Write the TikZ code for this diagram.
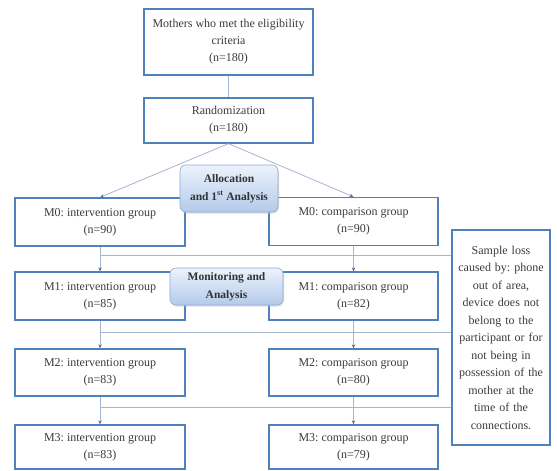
\documentclass[tikz,border=0pt]{standalone}
\usepackage{fontspec}
\setmainfont{Liberation Serif}
\usetikzlibrary{arrows.meta,shadows,calc}
\definecolor{boxblue}{RGB}{79,129,189}
\definecolor{txtgray}{RGB}{60,60,60}
\definecolor{lineblue}{RGB}{165,182,206}
\definecolor{arrblue}{RGB}{90,110,150}
\definecolor{tagtop}{RGB}{236,243,252}
\definecolor{tagbot}{RGB}{180,202,234}
\definecolor{tagedge}{RGB}{140,170,215}
\tikzset{
  box/.style={draw=boxblue, line width=1.3pt, fill=white, align=center,
    font=\frenchspacing\fontsize{12}{17}\selectfont, text=txtgray, inner sep=0pt},
  tagbox/.style={draw=tagedge, line width=0.6pt, rounded corners=6pt,
    top color=tagtop, bottom color=tagbot, align=center, inner sep=0pt,
    font=\bfseries\fontsize{11.5}{18}\selectfont, text=black!80,
    drop shadow={shadow xshift=1pt, shadow yshift=-1.5pt, fill=black!25}},
  conn/.style={draw=lineblue, line width=0.8pt},
  arr/.style={conn, -{Stealth[length=4pt,width=3.5pt,color=arrblue]}}
}
\begin{document}
\begin{tikzpicture}[x=1pt,y=-1pt]
\path[use as bounding box, fill=white] (0,0) rectangle (557,471);

\node[box, minimum width=169pt, minimum height=66pt] (elig) at (228.5,42)
  {Mothers who met the eligibility\\criteria\\(n=180)};
\node[box, minimum width=169pt, minimum height=45pt] (rand) at (228.5,120.5)
  {Randomization\\(n=180)};

\node[box, minimum width=170pt, minimum height=48pt] (m0i) at (100,222) {M0: intervention group\\(n=90)};
\node[box, minimum width=169pt, minimum height=48pt] (m0c) at (353.5,221.5) {M0: comparison group\\(n=90)};
\node[box, minimum width=170pt, minimum height=48pt] (m1i) at (100,296) {M1: intervention group\\(n=85)};
\node[box, minimum width=169pt, minimum height=48pt] (m1c) at (353.5,296) {M1: comparison group\\(n=82)};
\node[box, minimum width=170pt, minimum height=47pt] (m2i) at (100,372.5) {M2: intervention group\\(n=83)};
\node[box, minimum width=169pt, minimum height=47pt] (m2c) at (353.5,372.5) {M2: comparison group\\(n=80)};
\node[box, minimum width=170pt, minimum height=44pt] (m3i) at (100,447) {M3: intervention group\\(n=83)};
\node[box, minimum width=169pt, minimum height=44pt] (m3c) at (353.5,447) {M3: comparison group\\(n=79)};

\node[box, minimum width=98pt, minimum height=215pt, text width=96pt,
  font=\frenchspacing\fontsize{12}{17.5}\selectfont] (loss) at (501,337.5)
  {Sample loss\\caused by: phone\\out of area,\\device does not\\belong to the\\participant or for\\not being in\\possession of the\\mother at the\\time of the\\connections.};

\coordinate (h1) at (100,255);
\coordinate (h2) at (100,332);
\coordinate (h3) at (100,407);

\draw[conn] (elig.south) -- (rand.north);
\draw[arr] (rand.south) -- (m0i.north);
\draw[arr] (rand.south) -- (m0c.north);
\draw[arr] (m0i.south) -- (m1i.north);
\draw[arr] (m0c.south) -- (m1c.north);
\draw[arr] (m1i.south) -- (m2i.north);
\draw[arr] (m1c.south) -- (m2c.north);
\draw[arr] (m2i.south) -- (m3i.north);
\draw[arr] (m2c.south) -- (m3c.north);
\draw[conn] (h1) -- (h1 -| loss.west);
\draw[conn] (h2) -- (h2 -| loss.west);
\draw[conn] (h3) -- (h3 -| loss.west);

\node[tagbox, minimum width=98pt, minimum height=47pt] (alloc) at (229,188.5)
  {Allocation\\and 1\textsuperscript{st} Analysis};
\node[tagbox, minimum width=113pt, minimum height=37pt] (monit) at (226.5,286.5)
  {Monitoring and\\Analysis};
\end{tikzpicture}
\end{document}
